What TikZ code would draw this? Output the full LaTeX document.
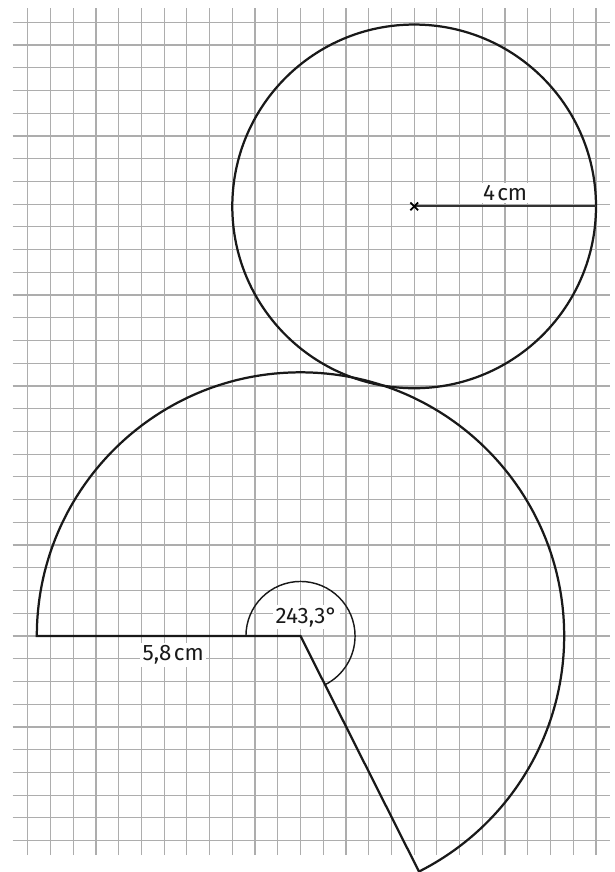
\documentclass[tikz,border=0pt]{standalone}
\usepackage{fontspec}
\setmainfont{Fira Sans}
\usetikzlibrary{calc}
\tikzset{
  gridline/.style={draw=black!32, line width=0.75pt},
  figline/.style={draw=black!90, line width=1.4pt, line join=miter},
  radiusline/.style={draw=black!80, line width=1.3pt},
  anglearc/.style={draw=black!90, line width=0.9pt},
  crossmark/.style={draw=black, line width=1.1pt},
  lbl/.style={fill=white, inner sep=1.5pt, font=\fontsize{14}{16}\selectfont, text=black!90}
}
\begin{document}
\begin{tikzpicture}
\useasboundingbox (-6.61,-5.191) rectangle (6.896,13.99);
% grid
\foreach \i in {0,...,25}
  \draw[gridline] ({-6+0.5*\i},-4.82) -- ({-6+0.5*\i},13.81);
\foreach \j in {0,...,36}
  \draw[gridline] (-6.33,{-4.5+0.5*\j}) -- (6.81,{-4.5+0.5*\j});
% sector
\coordinate (S) at (0,0);
\coordinate (A) at (180:5.8);
\coordinate (B) at (-63.3:5.8);
\draw[figline] (A) arc[start angle=180, end angle=-63.3, radius=5.8] -- (S) -- cycle;
\draw[anglearc] (180:1.2) arc[start angle=180, end angle=-63.3, radius=1.2];
\node[lbl] (ang) at (0.13,0.41) {243,3°};
\node[lbl] (r1) at (-2.8,-0.42) {5,8\kern1.5pt cm};
% circle
\coordinate (M) at (2.5,9.45);
\coordinate (R) at (6.5,9.45);
\draw[figline] (M) circle[radius=4];
\draw[radiusline] (M) -- (R);
\draw[crossmark] ($(M)+(-0.085,-0.085)$) -- ($(M)+(0.085,0.085)$);
\draw[crossmark] ($(M)+(-0.085,0.085)$) -- ($(M)+(0.085,-0.085)$);
\node[lbl] (r2) at (4.5,9.75) {4\kern1.5pt cm};
\end{tikzpicture}
\end{document}
